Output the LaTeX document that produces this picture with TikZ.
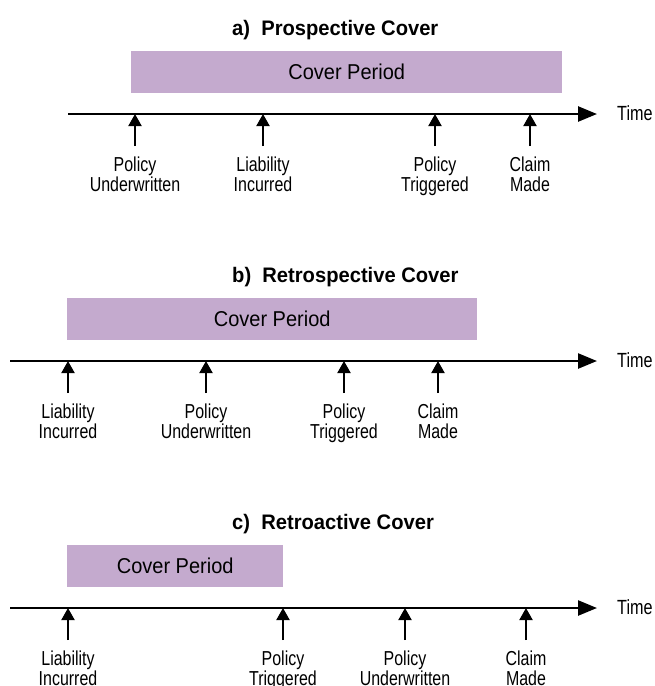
\documentclass[tikz,border=0pt]{standalone}
\usepackage{fontspec}
\setmainfont{Liberation Sans}
\newfontfamily\eventfont{Liberation Sans}[FakeStretch=0.79]
\newfontfamily\coverfont{Liberation Sans}[FakeStretch=0.93]
\newfontfamily\titlefont{Liberation Sans}[FakeStretch=0.96]
\usetikzlibrary{arrows.meta}
\definecolor{coverfill}{RGB}{196,170,206}
\tikzset{
  paneltitle/.style={anchor=base west, inner sep=0pt, font=\titlefont\bfseries\fontsize{21}{24}\selectfont},
  cover/.style={anchor=west, fill=coverfill, minimum height=42pt, inner sep=0pt, font=\coverfont\fontsize{21.5}{24}\selectfont},
  timeline/.style={line width=2.5pt, -{Triangle[length=19pt,width=15pt]}},
  timelbl/.style={anchor=base west, inner sep=0pt, font=\eventfont\fontsize{20.5}{23}\selectfont},
  event/.style={anchor=north, align=center, inner sep=0pt, font=\eventfont\fontsize{20.2}{19.5}\selectfont},
  tick/.style={line width=2pt, shorten <=10.8pt, -{Triangle[length=12pt,width=13pt]}},
}
\begin{document}
\begin{tikzpicture}[x=1pt,y=-1pt]
\useasboundingbox (0,0) rectangle (654,686);

% a) prospective cover
\node[paneltitle] (titlea) at (232,35) {a)~~Prospective Cover};
\node[cover, minimum width=431pt] (cova) at (131,72) {Cover Period};
\coordinate (starta) at (68,114);
\coordinate (enda) at (597,114);
\draw[timeline] (starta) -- (enda);
\node[timelbl] (timea) at (617,120) {Time};

\coordinate (a1) at (135,114);
\coordinate (a2) at (263,114);
\coordinate (a3) at (435,114);
\coordinate (a4) at (530,114);
\node[event] (la1) at (135,156.8) {Policy\\Underwritten};
\node[event] (la2) at (263,156.8) {Liability\\Incurred};
\node[event] (la3) at (435,156.8) {Policy\\Triggered};
\node[event] (la4) at (530,156.8) {Claim\\Made};
\draw[tick] (la1) -- (a1);
\draw[tick] (la2) -- (a2);
\draw[tick] (la3) -- (a3);
\draw[tick] (la4) -- (a4);

% b) retrospective cover
\node[paneltitle] (titleb) at (232,282) {b)~~Retrospective Cover};
\node[cover, minimum width=410pt] (covb) at (67,319) {Cover Period};
\coordinate (startb) at (10,361);
\coordinate (endb) at (597,361);
\draw[timeline] (startb) -- (endb);
\node[timelbl] (timeb) at (617,367) {Time};

\coordinate (b1) at (68,361);
\coordinate (b2) at (206,361);
\coordinate (b3) at (344,361);
\coordinate (b4) at (438,361);
\node[event] (lb1) at (68,403.8) {Liability\\Incurred};
\node[event] (lb2) at (206,403.8) {Policy\\Underwritten};
\node[event] (lb3) at (344,403.8) {Policy\\Triggered};
\node[event] (lb4) at (438,403.8) {Claim\\Made};
\draw[tick] (lb1) -- (b1);
\draw[tick] (lb2) -- (b2);
\draw[tick] (lb3) -- (b3);
\draw[tick] (lb4) -- (b4);

% c) retroactive cover
\node[paneltitle] (titlec) at (232,529) {c)~~Retroactive Cover};
\node[cover, minimum width=216pt] (covc) at (67,566) {Cover Period};
\coordinate (startc) at (10,608);
\coordinate (endc) at (597,608);
\draw[timeline] (startc) -- (endc);
\node[timelbl] (timec) at (617,614) {Time};

\coordinate (c1) at (68,608);
\coordinate (c2) at (283,608);
\coordinate (c3) at (405,608);
\coordinate (c4) at (526,608);
\node[event] (lc1) at (68,650.8) {Liability\\Incurred};
\node[event] (lc2) at (283,650.8) {Policy\\Triggered};
\node[event] (lc3) at (405,650.8) {Policy\\Underwritten};
\node[event] (lc4) at (526,650.8) {Claim\\Made};
\draw[tick] (lc1) -- (c1);
\draw[tick] (lc2) -- (c2);
\draw[tick] (lc3) -- (c3);
\draw[tick] (lc4) -- (c4);
\end{tikzpicture}
\end{document}
